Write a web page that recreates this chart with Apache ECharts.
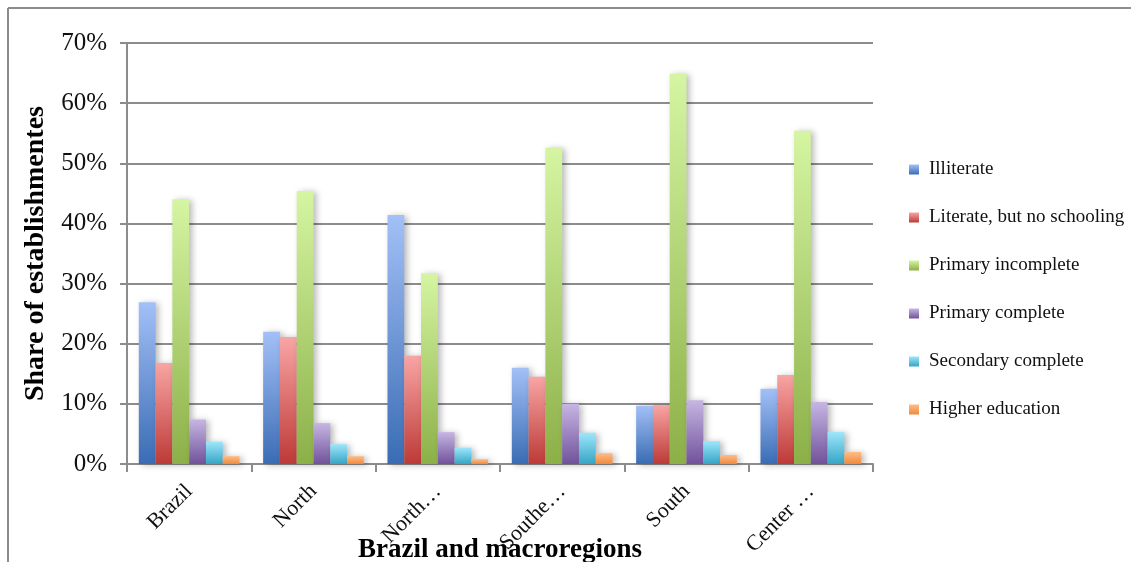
<!DOCTYPE html>
<html>
<head>
<meta charset="utf-8">
<script src="https://cdn.jsdelivr.net/npm/echarts@6/dist/echarts.min.js"></script>
<style>
  html, body { margin: 0; padding: 0; background: #fff; }
  #chart { width: 1131px; height: 562px; }
</style>
</head>
<body>
<div id="chart"></div>
<script>
// Regions and the share of establishments by schooling level of the workforce
const regions = ['Brazil', 'North', 'Northeast', 'Southeast', 'South', 'Center West'];
const regionLabels = ['Brazil', 'North', 'North…', 'Southe…', 'South', 'Center …'];

const illiterate         = [0.269, 0.220, 0.414, 0.160, 0.097, 0.125];
const literateNoSchool   = [0.168, 0.211, 0.180, 0.145, 0.098, 0.148];
const primaryIncomplete  = [0.440, 0.454, 0.317, 0.526, 0.649, 0.554];
const primaryComplete    = [0.074, 0.068, 0.053, 0.100, 0.106, 0.103];
const secondaryComplete  = [0.037, 0.033, 0.027, 0.052, 0.038, 0.053];
const higherEducation    = [0.013, 0.013, 0.008, 0.018, 0.015, 0.020];

const yTicks = [0, 0.1, 0.2, 0.3, 0.4, 0.5, 0.6, 0.7];

const seriesDefs = [
  { name: 'Illiterate', data: illiterate, top: '#a3c0f7', bottom: '#3a6cb4' },
  { name: 'Literate, but no schooling', data: literateNoSchool, top: '#f8a5a4', bottom: '#bd3a37' },
  { name: 'Primary incomplete', data: primaryIncomplete, top: '#d5f5a2', bottom: '#8cb048' },
  { name: 'Primary complete', data: primaryComplete, top: '#c6b6e3', bottom: '#71529b' },
  { name: 'Secondary complete', data: secondaryComplete, top: '#9de6fb', bottom: '#36a5c6' },
  { name: 'Higher education', data: higherEducation, top: '#fdbd88', bottom: '#f1893b' }
];

const serif = '"Liberation Serif", "DejaVu Serif", serif';
const gridColor = '#8c8c8c';

const chart = echarts.init(document.getElementById('chart'), null, { renderer: 'canvas' });

chart.setOption({
  animation: false,
  backgroundColor: '#ffffff',
  grid: { left: 127, right: 258, top: 43, bottom: 98, containLabel: false, outerBoundsMode: 'none' },
  legend: {
    orient: 'vertical',
    left: 904,
    top: 155,
    itemWidth: 10,
    itemHeight: 10,
    itemGap: 29,
    icon: 'rect',
    textStyle: { fontFamily: serif, fontSize: 19, color: '#111', padding: [0, 0, 0, 5] },
    data: seriesDefs.map(s => s.name)
  },
  xAxis: {
    type: 'category',
    data: regions,
    name: 'Brazil and macroregions',
    nameLocation: 'middle',
    nameGap: 73,
    nameMoveOverlap: false,
    nameTextStyle: { fontFamily: serif, fontWeight: 'bold', fontSize: 27, color: '#000' },
    axisLine: { lineStyle: { color: gridColor, width: 2 } },
    axisTick: { show: true, length: 8, alignWithLabel: false, lineStyle: { color: gridColor, width: 2 } },
    axisLabel: {
      rotate: 45,
      margin: 24,
      fontFamily: serif,
      fontSize: 22,
      color: '#111',
      formatter: (v, i) => regionLabels[i]
    }
  },
  yAxis: {
    type: 'value',
    min: 0,
    max: 0.7,
    interval: 0.1,
    name: 'Share of establishmentes',
    nameLocation: 'middle',
    nameGap: 77,
    nameMoveOverlap: false,
    nameTextStyle: { fontFamily: serif, fontWeight: 'bold', fontSize: 28, color: '#000' },
    axisLine: { show: true, lineStyle: { color: gridColor, width: 2 } },
    axisTick: { show: true, length: 7, lineStyle: { color: gridColor, width: 2 } },
    axisLabel: {
      margin: 20,
      fontFamily: serif,
      fontSize: 25,
      color: '#111',
      formatter: v => {
        const t = yTicks.find(x => Math.abs(x - v) < 1e-9);
        return Math.round((t !== undefined ? t : v) * 100) + '%';
      }
    },
    splitLine: { show: true, lineStyle: { color: gridColor, width: 2 } }
  },
  series: seriesDefs.map(s => ({
    name: s.name,
    type: 'bar',
    data: s.data,
    barGap: '0%',
    barCategoryGap: '19%',
    itemStyle: {
      color: new echarts.graphic.LinearGradient(0, 0, 0, 1, [
        { offset: 0, color: s.top },
        { offset: 1, color: s.bottom }
      ]),
      shadowColor: 'rgba(0,0,0,0.28)',
      shadowBlur: 6,
      shadowOffsetX: 3,
      shadowOffsetY: 1
    }
  })),
  graphic: [
    { type: 'line', shape: { x1: 8, y1: 8, x2: 1131, y2: 8 }, style: { stroke: gridColor, lineWidth: 2 }, z: 10 },
    { type: 'line', shape: { x1: 8, y1: 8, x2: 8, y2: 562 }, style: { stroke: gridColor, lineWidth: 2 }, z: 10 }
  ]
});
</script>
</body>
</html>
